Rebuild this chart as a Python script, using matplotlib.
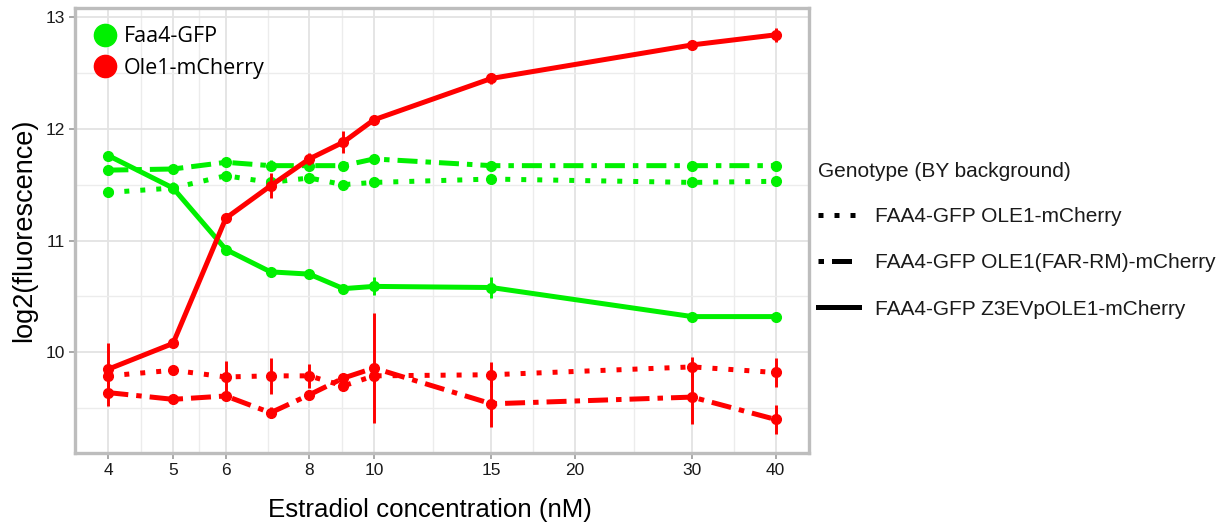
import matplotlib

matplotlib.use("Agg")
import matplotlib.pyplot as plt
import numpy as np
from matplotlib.lines import Line2D
from matplotlib.ticker import NullFormatter

# estradiol doses (nM)
dose = [4, 5, 6, 7, 8, 9, 10, 15, 30, 40]
x_ticks = [4, 5, 6, 8, 10, 15, 20, 30, 40]

# Faa4-GFP, per genotype
gfp_ole1 = [11.43, 11.47, 11.58, 11.52, 11.56, 11.50, 11.52, 11.55, 11.52, 11.53]
gfp_ole1_err = [0.03, 0.03, 0.03, 0.03, 0.03, 0.02, 0.02, 0.02, 0.02, 0.02]
gfp_farrm = [11.63, 11.64, 11.70, 11.67, 11.67, 11.67, 11.73, 11.67, 11.67, 11.67]
gfp_farrm_err = [0.02, 0.02, 0.03, 0.05, 0.02, 0.02, 0.03, 0.02, 0.02, 0.02]
gfp_z3ev = [11.76, 11.47, 10.92, 10.72, 10.70, 10.57, 10.59, 10.58, 10.32, 10.32]
gfp_z3ev_err = [0.03, 0.05, 0.04, 0.02, 0.02, 0.03, 0.08, 0.09, 0.02, 0.02]

# Ole1-mCherry, per genotype
mch_ole1 = [9.79, 9.84, 9.78, 9.79, 9.79, 9.70, 9.79, 9.80, 9.87, 9.82]
mch_ole1_err = [0.05, 0.03, 0.14, 0.16, 0.11, 0.04, 0.06, 0.11, 0.09, 0.13]
mch_farrm = [9.64, 9.58, 9.61, 9.46, 9.62, 9.77, 9.86, 9.54, 9.60, 9.40]
mch_farrm_err = [0.12, 0.03, 0.03, 0.05, 0.04, 0.04, 0.49, 0.21, 0.24, 0.13]
mch_z3ev = [9.85, 10.08, 11.20, 11.49, 11.73, 11.88, 12.08, 12.45, 12.75, 12.84]
mch_z3ev_err = [0.23, 0.03, 0.03, 0.11, 0.05, 0.10, 0.03, 0.05, 0.02, 0.06]

GREEN = "#00f000"
RED = "#ff0000"
DOT = (0, (1, 2.2))
DASHDOT = (0, (4.0, 1.6, 1.1, 1.6))
LW = 3.6

plt.rcParams["font.family"] = ["Liberation Sans", "DejaVu Sans"]

fig = plt.figure(figsize=(12.18, 5.23), dpi=100)
ax = fig.add_axes([75 / 1218, 1 - 453 / 523, (809 - 75) / 1218, (453 - 8) / 523])

ax.set_xscale("log")
lo, hi = np.log10(4), np.log10(40)
pad = 0.05 * (hi - lo)
ax.set_xlim(10 ** (lo - pad), 10 ** (hi + pad))
ax.set_ylim(9.10, 13.08)

ax.set_xticks(x_ticks)
ax.set_xticklabels([str(t) for t in x_ticks])
minor_x = [np.sqrt(a * b) for a, b in zip(x_ticks[:-1], x_ticks[1:])]
ax.set_xticks(minor_x, minor=True)
ax.xaxis.set_minor_formatter(NullFormatter())
ax.set_yticks([10, 11, 12, 13])
ax.set_yticks([9.5, 10.5, 11.5, 12.5], minor=True)
ax.grid(which="major", color="#e3e3e3", lw=1.3)
ax.grid(which="minor", color="#ececec", lw=1.0)
ax.set_axisbelow(True)
ax.tick_params(which="minor", length=0)
ax.tick_params(which="major", length=4, width=1.2, color="#9a9a9a", labelsize=12.5, labelcolor="#1a1a1a")

for s in ax.spines.values():
    s.set_color("#bdbdbd")
    s.set_linewidth(2.4)

series = [
    (gfp_ole1, gfp_ole1_err, GREEN, DOT),
    (gfp_farrm, gfp_farrm_err, GREEN, DASHDOT),
    (gfp_z3ev, gfp_z3ev_err, GREEN, "-"),
    (mch_ole1, mch_ole1_err, RED, DOT),
    (mch_farrm, mch_farrm_err, RED, DASHDOT),
    (mch_z3ev, mch_z3ev_err, RED, "-"),
]
for vals, errs, color, ls in series:
    ax.plot(dose, vals, color=color, lw=LW, linestyle=ls, marker="o", ms=7, zorder=3)
    ax.errorbar(dose, vals, yerr=errs, fmt="none", ecolor=color, elinewidth=2.1, capsize=0, zorder=3)

ax.set_xlabel("Estradiol concentration (nM)", fontsize=18.6)
ax.xaxis.set_label_coords(0.484, -0.1)
ax.set_ylabel("log2(fluorescence)", fontsize=19.5, labelpad=6)

color_handles = [
    Line2D([], [], ls="none", marker="o", ms=16, color=GREEN, label="Faa4-GFP"),
    Line2D([], [], ls="none", marker="o", ms=16, color=RED, label="Ole1-mCherry"),
]
ax.legend(handles=color_handles, loc="upper left", bbox_to_anchor=(0.0, 0.993), frameon=False,
          prop={"family": "Open Sans", "size": 15.5}, handletextpad=0.15, labelspacing=0.5,
          borderaxespad=0.3, handlelength=1.4)

geno_handles = [
    Line2D([], [], color="black", lw=LW, linestyle=DOT, label="FAA4-GFP OLE1-mCherry"),
    Line2D([], [], color="black", lw=LW, linestyle=(5.6, DASHDOT[1]), label="FAA4-GFP OLE1(FAR-RM)-mCherry"),
    Line2D([], [], color="black", lw=LW, linestyle="-", label="FAA4-GFP Z3EVpOLE1-mCherry"),
]
leg = fig.legend(handles=geno_handles, title="Genotype (BY background)", loc="upper left",
                 bbox_to_anchor=(818 / 1218, 1 - 162 / 523), frameon=False, fontsize=15,
                 title_fontsize=15, handlelength=1.95, handletextpad=0.8, labelspacing=1.3,
                 borderpad=0.0, borderaxespad=0.0)
leg._legend_box.align = "left"
leg._legend_box.sep = 19
leg.get_title().set_color("#1a1a1a")
for t in leg.get_texts():
    t.set_color("#1a1a1a")

fig.savefig("out.png", dpi=100)
